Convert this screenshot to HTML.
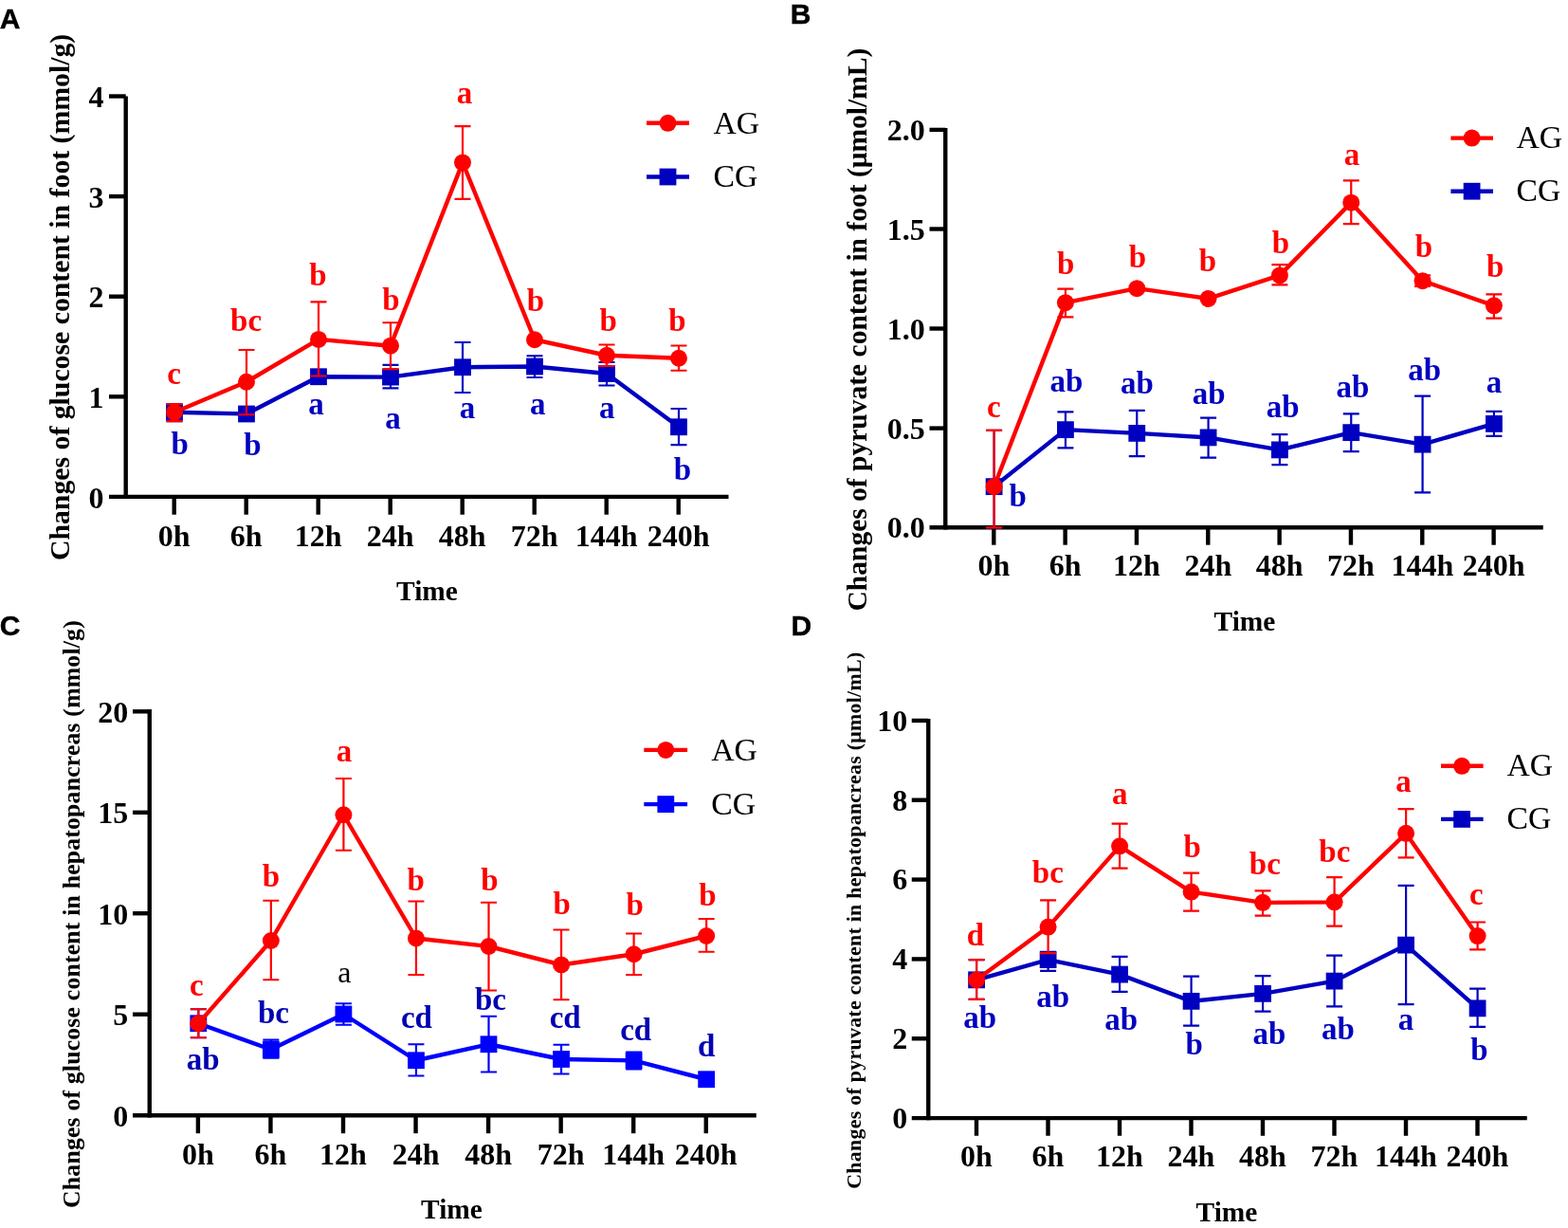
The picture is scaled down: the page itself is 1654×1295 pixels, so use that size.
<!DOCTYPE html>
<html lang="en">
<head>
<meta charset="utf-8">
<title>Changes of glucose and pyruvate content in foot and hepatopancreas</title>
<style>
html,body{margin:0;padding:0;background:#fff;}
body{width:1654px;height:1295px;overflow:hidden;}
svg{display:block;}
.b{font-family:"Liberation Serif","DejaVu Serif",serif;font-weight:bold;}
.r{font-family:"Liberation Serif","DejaVu Serif",serif;font-weight:normal;}
.s{font-family:"Liberation Sans","DejaVu Sans",sans-serif;font-weight:bold;fill:#000;}
</style>
</head>
<body>
<svg width="1654" height="1295" viewBox="0 0 1654 1295">
<rect width="1654" height="1295" fill="#fff"/>
<g id="panelA">
<g stroke="#000" stroke-width="4.4" fill="none">
<line x1="132.7" y1="101.5" x2="132.7" y2="526.1"/>
<line x1="115" y1="523.9" x2="768.5" y2="523.9"/>
<line x1="115" y1="418.3" x2="132.7" y2="418.3"/>
<line x1="115" y1="312.7" x2="132.7" y2="312.7"/>
<line x1="115" y1="207.1" x2="132.7" y2="207.1"/>
<line x1="115" y1="101.5" x2="132.7" y2="101.5"/>
<line x1="183.7" y1="523.9" x2="183.7" y2="542.7"/>
<line x1="259.7" y1="523.9" x2="259.7" y2="542.7"/>
<line x1="335.7" y1="523.9" x2="335.7" y2="542.7"/>
<line x1="411.7" y1="523.9" x2="411.7" y2="542.7"/>
<line x1="487.7" y1="523.9" x2="487.7" y2="542.7"/>
<line x1="563.7" y1="523.9" x2="563.7" y2="542.7"/>
<line x1="639.7" y1="523.9" x2="639.7" y2="542.7"/>
<line x1="715.7" y1="523.9" x2="715.7" y2="542.7"/>
</g>
<g class="b" font-size="32" fill="#000">
<text x="109.5" y="535.5" text-anchor="end">0</text>
<text x="109.5" y="429.9" text-anchor="end">1</text>
<text x="109.5" y="324.3" text-anchor="end">2</text>
<text x="109.5" y="218.7" text-anchor="end">3</text>
<text x="109.5" y="113.1" text-anchor="end">4</text>
<text x="183.7" y="576" text-anchor="middle">0h</text>
<text x="259.7" y="576" text-anchor="middle">6h</text>
<text x="335.7" y="576" text-anchor="middle">12h</text>
<text x="411.7" y="576" text-anchor="middle">24h</text>
<text x="487.7" y="576" text-anchor="middle">48h</text>
<text x="563.7" y="576" text-anchor="middle">72h</text>
<text x="639.7" y="576" text-anchor="middle">144h</text>
<text x="715.7" y="576" text-anchor="middle">240h</text>
<text x="450.5" y="633.3" text-anchor="middle" font-size="29.4">Time</text>
<text transform="translate(72.5 313.4) rotate(-90)" text-anchor="middle" font-size="29.4" textLength="555.3" lengthAdjust="spacingAndGlyphs">Changes of glucose content in foot (mmol/g)</text>
</g>
<text class="s" x="-0.3" y="30.2" font-size="30" stroke="#000" stroke-width="0.4">A</text>
<line x1="682" y1="129.8" x2="727" y2="129.8" stroke="#ff0000" stroke-width="4.4"/>
<circle cx="704.5" cy="129.8" r="9.0" fill="#ff0000"/>
<line x1="682" y1="186.5" x2="727" y2="186.5" stroke="#0000c0" stroke-width="4.4"/>
<rect x="695.6" y="177.6" width="17.8" height="17.8" fill="#0000c0"/>
<g class="r" font-size="33.7" fill="#000"><text x="752.5" y="140.5">AG</text><text x="752.5" y="197.2">CG</text></g>
<g stroke="#0000c0" fill="#0000c0">
<path d="M184 426V444.2M175.5 426h17M175.5 444.2h17M412 384.9V409.4M403.5 384.9h17M403.5 409.4h17M488 361V414M479.5 361h17M479.5 414h17M564 375.25V398M555.5 375.25h17M555.5 398h17M640 382V406.5M631.5 382h17M631.5 406.5h17M716 431V469.1M707.5 431h17M707.5 469.1h17" fill="none" stroke-width="2.2"/>
<polyline points="184,434.75 260,436.5 336,397.25 412,397.6 488,387.25 564,386.5 640,394 716,450.25" fill="none" stroke-width="4.4" stroke-linejoin="round"/>
<rect x="175.1" y="425.85" width="17.8" height="17.8" stroke="none"/>
<rect x="251.1" y="427.6" width="17.8" height="17.8" stroke="none"/>
<rect x="327.1" y="388.35" width="17.8" height="17.8" stroke="none"/>
<rect x="403.1" y="388.7" width="17.8" height="17.8" stroke="none"/>
<rect x="479.1" y="378.35" width="17.8" height="17.8" stroke="none"/>
<rect x="555.1" y="377.6" width="17.8" height="17.8" stroke="none"/>
<rect x="631.1" y="385.1" width="17.8" height="17.8" stroke="none"/>
<rect x="707.1" y="441.35" width="17.8" height="17.8" stroke="none"/>
</g>
<g stroke="#ff0000" fill="#ff0000">
<path d="M184 426V444.2M175.5 426h17M175.5 444.2h17M260 369V437.25M251.5 369h17M251.5 437.25h17M336 318.4V396.5M327.5 318.4h17M327.5 396.5h17M412 340.25V389.2M403.5 340.25h17M403.5 389.2h17M488 133.2V209.8M479.5 133.2h17M479.5 209.8h17M640 363.5V386M631.5 363.5h17M631.5 386h17M716 364.5V390.75M707.5 364.5h17M707.5 390.75h17" fill="none" stroke-width="2.2"/>
<polyline points="184,434.75 260,402.75 336,357.9 412,364.7 488,171.4 564,358.25 640,374.75 716,377.75" fill="none" stroke-width="4.4" stroke-linejoin="round"/>
<circle cx="184" cy="434.75" r="9.0" stroke="none"/>
<circle cx="260" cy="402.75" r="9.0" stroke="none"/>
<circle cx="336" cy="357.9" r="9.0" stroke="none"/>
<circle cx="412" cy="364.7" r="9.0" stroke="none"/>
<circle cx="488" cy="171.4" r="9.0" stroke="none"/>
<circle cx="564" cy="358.25" r="9.0" stroke="none"/>
<circle cx="640" cy="374.75" r="9.0" stroke="none"/>
<circle cx="716" cy="377.75" r="9.0" stroke="none"/>
</g>
<g class="b" font-size="33" text-anchor="middle">
<g fill="#ff0000">
<text x="183.5" y="405">c</text>
<text x="259.6" y="348.7">bc</text>
<text x="335.5" y="300.6">b</text>
<text x="412.5" y="326.8">b</text>
<text x="490" y="109">a</text>
<text x="565" y="327.8">b</text>
<text x="641.6" y="348.8">b</text>
<text x="714.5" y="348.8">b</text>
</g>
<g fill="#0000c0">
<text x="189.8" y="478.7">b</text>
<text x="266.4" y="479.9">b</text>
<text x="333.5" y="436.5">a</text>
<text x="414.6" y="451.8">a</text>
<text x="492.9" y="441.2">a</text>
<text x="567.3" y="437.2">a</text>
<text x="640.2" y="441">a</text>
<text x="720" y="506.3">b</text>
</g>
</g>
</g>
<g id="panelB">
<g stroke="#000" stroke-width="4.4" fill="none">
<line x1="997.25" y1="135" x2="997.25" y2="558.45"/>
<line x1="980.5" y1="556.25" x2="1627.75" y2="556.25"/>
<line x1="980.5" y1="451.6" x2="997.25" y2="451.6"/>
<line x1="980.5" y1="346.5" x2="997.25" y2="346.5"/>
<line x1="980.5" y1="241.5" x2="997.25" y2="241.5"/>
<line x1="980.5" y1="136.9" x2="997.25" y2="136.9"/>
<line x1="1048.3" y1="556.25" x2="1048.3" y2="574.7"/>
<line x1="1123.63" y1="556.25" x2="1123.63" y2="574.7"/>
<line x1="1198.96" y1="556.25" x2="1198.96" y2="574.7"/>
<line x1="1274.29" y1="556.25" x2="1274.29" y2="574.7"/>
<line x1="1349.62" y1="556.25" x2="1349.62" y2="574.7"/>
<line x1="1424.95" y1="556.25" x2="1424.95" y2="574.7"/>
<line x1="1500.28" y1="556.25" x2="1500.28" y2="574.7"/>
<line x1="1575.61" y1="556.25" x2="1575.61" y2="574.7"/>
</g>
<g class="b" font-size="32" fill="#000">
<text x="975.8" y="567.25" text-anchor="end">0.0</text>
<text x="975.8" y="462.6" text-anchor="end">0.5</text>
<text x="975.8" y="357.5" text-anchor="end">1.0</text>
<text x="975.8" y="252.5" text-anchor="end">1.5</text>
<text x="975.8" y="147.9" text-anchor="end">2.0</text>
<text x="1048.3" y="606.5" text-anchor="middle">0h</text>
<text x="1123.63" y="606.5" text-anchor="middle">6h</text>
<text x="1198.96" y="606.5" text-anchor="middle">12h</text>
<text x="1274.29" y="606.5" text-anchor="middle">24h</text>
<text x="1349.62" y="606.5" text-anchor="middle">48h</text>
<text x="1424.95" y="606.5" text-anchor="middle">72h</text>
<text x="1500.28" y="606.5" text-anchor="middle">144h</text>
<text x="1575.61" y="606.5" text-anchor="middle">240h</text>
<text x="1313" y="665" text-anchor="middle" font-size="29.4">Time</text>
<text transform="translate(914.25 347.6) rotate(-90)" text-anchor="middle" font-size="29.4" textLength="593.8" lengthAdjust="spacingAndGlyphs">Changes of pyruvate content in foot (μmol/mL)</text>
</g>
<text class="s" x="833.7" y="24.5" font-size="30" stroke="#000" stroke-width="0.4">B</text>
<line x1="1530.4" y1="145.6" x2="1575" y2="145.6" stroke="#ff0000" stroke-width="4.4"/>
<circle cx="1552.6" cy="145.6" r="9.0" fill="#ff0000"/>
<line x1="1530.4" y1="201.7" x2="1575" y2="201.7" stroke="#0000c0" stroke-width="4.4"/>
<rect x="1543.7" y="192.8" width="17.8" height="17.8" fill="#0000c0"/>
<g class="r" font-size="33.7" fill="#000"><text x="1599.5" y="156">AG</text><text x="1599.5" y="212.2">CG</text></g>
<g stroke="#0000c0" fill="#0000c0">
<path d="M1048.6 453.9V556.4M1040.1 453.9h17M1040.1 556.4h17M1123.93 434.4V472.4M1115.43 434.4h17M1115.43 472.4h17M1199.26 432.9V481.15M1190.76 432.9h17M1190.76 481.15h17M1274.59 440.65V482.65M1266.09 440.65h17M1266.09 482.65h17M1349.92 458.15V490.15M1341.42 458.15h17M1341.42 490.15h17M1425.25 436.4V476.15M1416.75 436.4h17M1416.75 476.15h17M1500.58 417.65V519.4M1492.08 417.65h17M1492.08 519.4h17M1575.91 433.9V459.9M1567.41 433.9h17M1567.41 459.9h17" fill="none" stroke-width="2.2"/>
<polyline points="1048.6,513.15 1123.93,453.15 1199.26,456.9 1274.59,461.4 1349.92,474.4 1425.25,456.15 1500.58,468.65 1575.91,446.9" fill="none" stroke-width="4.4" stroke-linejoin="round"/>
<rect x="1039.7" y="504.25" width="17.8" height="17.8" stroke="none"/>
<rect x="1115.03" y="444.25" width="17.8" height="17.8" stroke="none"/>
<rect x="1190.36" y="448" width="17.8" height="17.8" stroke="none"/>
<rect x="1265.69" y="452.5" width="17.8" height="17.8" stroke="none"/>
<rect x="1341.02" y="465.5" width="17.8" height="17.8" stroke="none"/>
<rect x="1416.35" y="447.25" width="17.8" height="17.8" stroke="none"/>
<rect x="1491.68" y="459.75" width="17.8" height="17.8" stroke="none"/>
<rect x="1567.01" y="438" width="17.8" height="17.8" stroke="none"/>
</g>
<g stroke="#ff0000" fill="#ff0000">
<path d="M1048.6 453.9V556.4M1040.1 453.9h17M1040.1 556.4h17M1123.93 304.65V334.4M1115.43 304.65h17M1115.43 334.4h17M1349.92 279.15V300.4M1341.42 279.15h17M1341.42 300.4h17M1425.25 190.4V236.15M1416.75 190.4h17M1416.75 236.15h17M1500.58 290.3V301.9M1492.08 290.3h17M1492.08 301.9h17M1575.91 310.4V335.65M1567.41 310.4h17M1567.41 335.65h17" fill="none" stroke-width="2.2"/>
<polyline points="1048.6,513.15 1123.93,319.15 1199.26,304.15 1274.59,314.9 1349.92,290.4 1425.25,213.65 1500.58,296.15 1575.91,322.3" fill="none" stroke-width="4.4" stroke-linejoin="round"/>
<circle cx="1048.6" cy="513.15" r="9.0" stroke="none"/>
<circle cx="1123.93" cy="319.15" r="9.0" stroke="none"/>
<circle cx="1199.26" cy="304.15" r="9.0" stroke="none"/>
<circle cx="1274.59" cy="314.9" r="9.0" stroke="none"/>
<circle cx="1349.92" cy="290.4" r="9.0" stroke="none"/>
<circle cx="1425.25" cy="213.65" r="9.0" stroke="none"/>
<circle cx="1500.58" cy="296.15" r="9.0" stroke="none"/>
<circle cx="1575.91" cy="322.3" r="9.0" stroke="none"/>
</g>
<g class="b" font-size="33" text-anchor="middle">
<g fill="#ff0000">
<text x="1048.3" y="439.9">c</text>
<text x="1124.3" y="288.9">b</text>
<text x="1200.05" y="282.1">b</text>
<text x="1274.05" y="285.9">b</text>
<text x="1351.05" y="267.15">b</text>
<text x="1426.05" y="173.9">a</text>
<text x="1502.05" y="271.4">b</text>
<text x="1577.3" y="292.15">b</text>
</g>
<g fill="#0000c0">
<text x="1073.8" y="534.4">b</text>
<text x="1125.05" y="412.9">ab</text>
<text x="1199.55" y="414.9">ab</text>
<text x="1275.3" y="425.65">ab</text>
<text x="1353.3" y="440.4">ab</text>
<text x="1427.05" y="419.4">ab</text>
<text x="1502.8" y="401.15">ab</text>
<text x="1576.05" y="413.65">a</text>
</g>
</g>
</g>
<g id="panelC">
<g stroke="#000" stroke-width="4.4" fill="none">
<line x1="157.75" y1="748" x2="157.75" y2="1178.4"/>
<line x1="140" y1="1176.2" x2="797.75" y2="1176.2"/>
<line x1="140" y1="1069.7" x2="157.75" y2="1069.7"/>
<line x1="140" y1="963.2" x2="157.75" y2="963.2"/>
<line x1="140" y1="856.8" x2="157.75" y2="856.8"/>
<line x1="140" y1="750.3" x2="157.75" y2="750.3"/>
<line x1="208.9" y1="1176.2" x2="208.9" y2="1195.2"/>
<line x1="285.45" y1="1176.2" x2="285.45" y2="1195.2"/>
<line x1="362" y1="1176.2" x2="362" y2="1195.2"/>
<line x1="438.55" y1="1176.2" x2="438.55" y2="1195.2"/>
<line x1="515.1" y1="1176.2" x2="515.1" y2="1195.2"/>
<line x1="591.65" y1="1176.2" x2="591.65" y2="1195.2"/>
<line x1="668.2" y1="1176.2" x2="668.2" y2="1195.2"/>
<line x1="744.75" y1="1176.2" x2="744.75" y2="1195.2"/>
</g>
<g class="b" font-size="32" fill="#000">
<text x="135.2" y="1187.7" text-anchor="end">0</text>
<text x="135.2" y="1081.2" text-anchor="end">5</text>
<text x="135.2" y="974.7" text-anchor="end">10</text>
<text x="135.2" y="868.3" text-anchor="end">15</text>
<text x="135.2" y="761.8" text-anchor="end">20</text>
<text x="208.9" y="1228.2" text-anchor="middle">0h</text>
<text x="285.45" y="1228.2" text-anchor="middle">6h</text>
<text x="362" y="1228.2" text-anchor="middle">12h</text>
<text x="438.55" y="1228.2" text-anchor="middle">24h</text>
<text x="515.1" y="1228.2" text-anchor="middle">48h</text>
<text x="591.65" y="1228.2" text-anchor="middle">72h</text>
<text x="668.2" y="1228.2" text-anchor="middle">144h</text>
<text x="744.75" y="1228.2" text-anchor="middle">240h</text>
<text x="476.5" y="1284.5" text-anchor="middle" font-size="29.4">Time</text>
<text transform="translate(83.75 964.1) rotate(-90)" text-anchor="middle" font-size="25.7" textLength="619.6" lengthAdjust="spacing">Changes of glucose content in hepatopancreas (mmol/g)</text>
</g>
<text class="s" x="-0.3" y="670.2" font-size="30" stroke="#000" stroke-width="0.4">C</text>
<line x1="679.3" y1="790.9" x2="725.1" y2="790.9" stroke="#ff0000" stroke-width="4.4"/>
<circle cx="702.3" cy="790.9" r="9.0" fill="#ff0000"/>
<line x1="679.3" y1="848.1" x2="725.1" y2="848.1" stroke="#0000ff" stroke-width="4.4"/>
<rect x="693.4" y="839.2" width="17.8" height="17.8" fill="#0000ff"/>
<g class="r" font-size="33.7" fill="#000"><text x="750.25" y="801.6">AG</text><text x="750.25" y="858.5">CG</text></g>
<g stroke="#0000ff" fill="#0000ff">
<path d="M209.3 1064.25V1094.25M200.8 1064.25h17M200.8 1094.25h17M285.85 1096.7V1115.7M277.35 1096.7h17M277.35 1115.7h17M362.4 1058.25V1080.75M353.9 1058.25h17M353.9 1080.75h17M438.95 1101.25V1134.5M430.45 1101.25h17M430.45 1134.5h17M515.5 1071.75V1130.5M507 1071.75h17M507 1130.5h17M592.05 1101.75V1132.5M583.55 1101.75h17M583.55 1132.5h17M668.6 1109.7V1127.4M660.1 1109.7h17M660.1 1127.4h17" fill="none" stroke-width="2.2"/>
<polyline points="209.3,1079.25 285.85,1106.8 362.4,1069.5 438.95,1118.25 515.5,1101.25 592.05,1117 668.6,1118.4 745.15,1138.25" fill="none" stroke-width="4.4" stroke-linejoin="round"/>
<rect x="200.4" y="1070.35" width="17.8" height="17.8" stroke="none"/>
<rect x="276.95" y="1097.9" width="17.8" height="17.8" stroke="none"/>
<rect x="353.5" y="1060.6" width="17.8" height="17.8" stroke="none"/>
<rect x="430.05" y="1109.35" width="17.8" height="17.8" stroke="none"/>
<rect x="506.6" y="1092.35" width="17.8" height="17.8" stroke="none"/>
<rect x="583.15" y="1108.1" width="17.8" height="17.8" stroke="none"/>
<rect x="659.7" y="1109.5" width="17.8" height="17.8" stroke="none"/>
<rect x="736.25" y="1129.35" width="17.8" height="17.8" stroke="none"/>
</g>
<g stroke="#ff0000" fill="#ff0000">
<path d="M209.3 1064.25V1094.25M200.8 1064.25h17M200.8 1094.25h17M285.85 949.75V1033.25M277.35 949.75h17M277.35 1033.25h17M362.4 821V896.75M353.9 821h17M353.9 896.75h17M438.95 950.5V1028M430.45 950.5h17M430.45 1028h17M515.5 951.75V1044.5M507 951.75h17M507 1044.5h17M592.05 980.5V1054.25M583.55 980.5h17M583.55 1054.25h17M668.6 984.5V1028M660.1 984.5h17M660.1 1028h17M745.15 969V1003.75M736.65 969h17M736.65 1003.75h17" fill="none" stroke-width="2.2"/>
<polyline points="209.3,1079.25 285.85,992 362.4,859.25 438.95,989.5 515.5,998 592.05,1017.5 668.6,1006.25 745.15,987" fill="none" stroke-width="4.4" stroke-linejoin="round"/>
<circle cx="209.3" cy="1079.25" r="9.0" stroke="none"/>
<circle cx="285.85" cy="992" r="9.0" stroke="none"/>
<circle cx="362.4" cy="859.25" r="9.0" stroke="none"/>
<circle cx="438.95" cy="989.5" r="9.0" stroke="none"/>
<circle cx="515.5" cy="998" r="9.0" stroke="none"/>
<circle cx="592.05" cy="1017.5" r="9.0" stroke="none"/>
<circle cx="668.6" cy="1006.25" r="9.0" stroke="none"/>
<circle cx="745.15" cy="987" r="9.0" stroke="none"/>
</g>
<g class="b" font-size="33" text-anchor="middle">
<g fill="#ff0000">
<text x="207.3" y="1050">c</text>
<text x="286" y="934.7">b</text>
<text x="363.1" y="803.3">a</text>
<text x="438.6" y="938.6">b</text>
<text x="516.4" y="938.6">b</text>
<text x="592.8" y="963.5">b</text>
<text x="669.7" y="965.1">b</text>
<text x="746.4" y="954.6">b</text>
</g>
<g fill="#0000b2">
<text x="214.1" y="1127.6">ab</text>
<text x="288.4" y="1078.6">bc</text>
<text x="439.4" y="1083.6">cd</text>
<text x="517.4" y="1064.9">bc</text>
<text x="596.2" y="1083.6">cd</text>
<text x="670.7" y="1096.8">cd</text>
<text x="745.3" y="1113.7">d</text>
</g>
</g>
<text class="r" x="363.25" y="1035.75" fill="#000" font-size="32" text-anchor="middle">a</text>
</g>
<g id="panelD">
<g stroke="#000" stroke-width="4.4" fill="none">
<line x1="979.25" y1="758" x2="979.25" y2="1181.3"/>
<line x1="961.75" y1="1179.1" x2="1610.75" y2="1179.1"/>
<line x1="961.75" y1="1095.25" x2="979.25" y2="1095.25"/>
<line x1="961.75" y1="1011.4" x2="979.25" y2="1011.4"/>
<line x1="961.75" y1="927.55" x2="979.25" y2="927.55"/>
<line x1="961.75" y1="843.7" x2="979.25" y2="843.7"/>
<line x1="961.75" y1="759.9" x2="979.25" y2="759.9"/>
<line x1="1030" y1="1179.1" x2="1030" y2="1197.75"/>
<line x1="1105.5" y1="1179.1" x2="1105.5" y2="1197.75"/>
<line x1="1181" y1="1179.1" x2="1181" y2="1197.75"/>
<line x1="1256.5" y1="1179.1" x2="1256.5" y2="1197.75"/>
<line x1="1332" y1="1179.1" x2="1332" y2="1197.75"/>
<line x1="1407.5" y1="1179.1" x2="1407.5" y2="1197.75"/>
<line x1="1483" y1="1179.1" x2="1483" y2="1197.75"/>
<line x1="1558.5" y1="1179.1" x2="1558.5" y2="1197.75"/>
</g>
<g class="b" font-size="32" fill="#000">
<text x="957.2" y="1189.9" text-anchor="end">0</text>
<text x="957.2" y="1106.05" text-anchor="end">2</text>
<text x="957.2" y="1022.2" text-anchor="end">4</text>
<text x="957.2" y="938.35" text-anchor="end">6</text>
<text x="957.2" y="854.5" text-anchor="end">8</text>
<text x="957.2" y="770.7" text-anchor="end">10</text>
<text x="1030" y="1230" text-anchor="middle">0h</text>
<text x="1105.5" y="1230" text-anchor="middle">6h</text>
<text x="1181" y="1230" text-anchor="middle">12h</text>
<text x="1256.5" y="1230" text-anchor="middle">24h</text>
<text x="1332" y="1230" text-anchor="middle">48h</text>
<text x="1407.5" y="1230" text-anchor="middle">72h</text>
<text x="1483" y="1230" text-anchor="middle">144h</text>
<text x="1558.5" y="1230" text-anchor="middle">240h</text>
<text x="1294" y="1288.25" text-anchor="middle" font-size="29.4">Time</text>
<text transform="translate(907.5 970.8) rotate(-90)" text-anchor="middle" font-size="21.9" textLength="566" lengthAdjust="spacing">Changes of pyruvate content in hepatopancreas (μmol/mL)</text>
</g>
<text class="s" x="834.4" y="670.1" font-size="30" stroke="#000" stroke-width="0.4">D</text>
<line x1="1520" y1="807.8" x2="1564.6" y2="807.8" stroke="#ff0000" stroke-width="4.4"/>
<circle cx="1542.1" cy="807.8" r="9.0" fill="#ff0000"/>
<line x1="1520" y1="863.9" x2="1564.6" y2="863.9" stroke="#0000c0" stroke-width="4.4"/>
<rect x="1533.2" y="855" width="17.8" height="17.8" fill="#0000c0"/>
<g class="r" font-size="33.7" fill="#000"><text x="1589.5" y="818.4">AG</text><text x="1589.5" y="874.2">CG</text></g>
<g stroke="#0000c0" fill="#0000c0">
<path d="M1030.1 1012.1V1053.85M1021.6 1012.1h17M1021.6 1053.85h17M1105.6 1003.85V1023.85M1097.1 1003.85h17M1097.1 1023.85h17M1181.1 1008.85V1045.85M1172.6 1008.85h17M1172.6 1045.85h17M1256.6 1029.6V1081.6M1248.1 1029.6h17M1248.1 1081.6h17M1332.1 1029.1V1066.6M1323.6 1029.1h17M1323.6 1066.6h17M1407.6 1007.6V1061.35M1399.1 1007.6h17M1399.1 1061.35h17M1483.1 933.85V1059.1M1474.6 933.85h17M1474.6 1059.1h17M1558.6 1042.6V1082.85M1550.1 1042.6h17M1550.1 1082.85h17" fill="none" stroke-width="2.2"/>
<polyline points="1030.1,1033.35 1105.6,1012.1 1181.1,1027.6 1256.6,1055.85 1332.1,1047.85 1407.6,1034.6 1483.1,996.6 1558.6,1063.35" fill="none" stroke-width="4.4" stroke-linejoin="round"/>
<rect x="1021.2" y="1024.45" width="17.8" height="17.8" stroke="none"/>
<rect x="1096.7" y="1003.2" width="17.8" height="17.8" stroke="none"/>
<rect x="1172.2" y="1018.7" width="17.8" height="17.8" stroke="none"/>
<rect x="1247.7" y="1046.95" width="17.8" height="17.8" stroke="none"/>
<rect x="1323.2" y="1038.95" width="17.8" height="17.8" stroke="none"/>
<rect x="1398.7" y="1025.7" width="17.8" height="17.8" stroke="none"/>
<rect x="1474.2" y="987.7" width="17.8" height="17.8" stroke="none"/>
<rect x="1549.7" y="1054.45" width="17.8" height="17.8" stroke="none"/>
</g>
<g stroke="#ff0000" fill="#ff0000">
<path d="M1030.1 1012.1V1053.85M1021.6 1012.1h17M1021.6 1053.85h17M1105.6 949.35V1005.1M1097.1 949.35h17M1097.1 1005.1h17M1181.1 868.6V915.6M1172.6 868.6h17M1172.6 915.6h17M1256.6 920.6V960.6M1248.1 920.6h17M1248.1 960.6h17M1332.1 939.35V965.6M1323.6 939.35h17M1323.6 965.6h17M1407.6 925.1V976.6M1399.1 925.1h17M1399.1 976.6h17M1483.1 853.1V904.35M1474.6 853.1h17M1474.6 904.35h17M1558.6 972.5V1001.35M1550.1 972.5h17M1550.1 1001.35h17" fill="none" stroke-width="2.2"/>
<polyline points="1030.1,1033.35 1105.6,977.6 1181.1,892.35 1256.6,940.6 1332.1,951.85 1407.6,951.35 1483.1,878.85 1558.6,987.1" fill="none" stroke-width="4.4" stroke-linejoin="round"/>
<circle cx="1030.1" cy="1033.35" r="9.0" stroke="none"/>
<circle cx="1105.6" cy="977.6" r="9.0" stroke="none"/>
<circle cx="1181.1" cy="892.35" r="9.0" stroke="none"/>
<circle cx="1256.6" cy="940.6" r="9.0" stroke="none"/>
<circle cx="1332.1" cy="951.85" r="9.0" stroke="none"/>
<circle cx="1407.6" cy="951.35" r="9.0" stroke="none"/>
<circle cx="1483.1" cy="878.85" r="9.0" stroke="none"/>
<circle cx="1558.6" cy="987.1" r="9.0" stroke="none"/>
</g>
<g class="b" font-size="33" text-anchor="middle">
<g fill="#ff0000">
<text x="1029.05" y="996.5">d</text>
<text x="1105.3" y="931.2">bc</text>
<text x="1181.3" y="848.2">a</text>
<text x="1257.8" y="904.2">b</text>
<text x="1334.3" y="921.7">bc</text>
<text x="1407.8" y="908.7">bc</text>
<text x="1480.55" y="835.45">a</text>
<text x="1557.3" y="954.3">c</text>
</g>
<g fill="#0000c0">
<text x="1033.8" y="1083.95">ab</text>
<text x="1110.8" y="1062.2">ab</text>
<text x="1182.8" y="1085.7">ab</text>
<text x="1259.8" y="1111.95">b</text>
<text x="1339.05" y="1100.7">ab</text>
<text x="1411.55" y="1096.45">ab</text>
<text x="1483.05" y="1086.45">a</text>
<text x="1560.55" y="1118.2">b</text>
</g>
</g>
</g>
</svg>
</body>
</html>
